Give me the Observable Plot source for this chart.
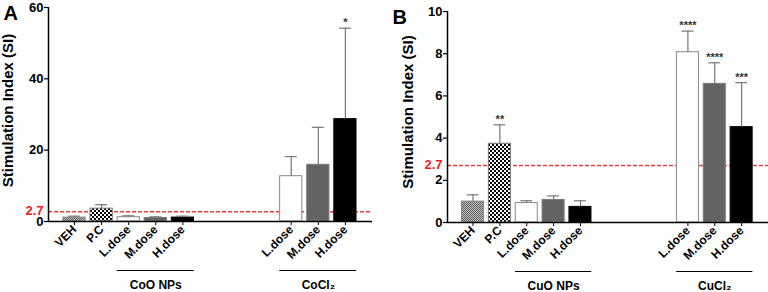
<!DOCTYPE html>
<html><head><meta charset="utf-8">
<script src="https://cdn.jsdelivr.net/npm/d3@7"></script>
<script src="https://cdn.jsdelivr.net/npm/@observablehq/plot@0.6"></script>
<style>
html,body{margin:0;padding:0;background:#fff;}
#wrap{position:relative;width:768px;height:292px;overflow:hidden;background:#fff;}
.panel{position:absolute;top:0;}
</style></head><body>
<svg width="0" height="0" style="position:absolute">
  <defs>
    <pattern id="patVeh" width="2" height="2" patternUnits="userSpaceOnUse">
      <rect width="2" height="2" fill="#c4c4c4"/>
      <rect width="1" height="1" fill="#5a5a5a"/>
      <rect x="1" y="1" width="1" height="1" fill="#5a5a5a"/>
    </pattern>
    <pattern id="patPC" width="4" height="4" patternUnits="userSpaceOnUse">
      <rect width="4" height="4" fill="#fff"/>
      <rect width="2" height="2" fill="#000"/>
      <rect x="2" y="2" width="2" height="2" fill="#000"/>
    </pattern>
  </defs>
</svg>
<div id="wrap"><div id="pa" class="panel" style="left:0"></div><div id="pb" class="panel" style="left:384px"></div></div>
<script>
// ---- Data ----
const labelsA = ["VEH", "P.C", "L.dose", "M.dose", "H.dose", "L.dose", "M.dose", "H.dose"];
const setsA   = ["", "", "CoO NPs", "CoO NPs", "CoO NPs", "CoCl₂", "CoCl₂", "CoCl₂"];
const meansA  = [1.1, 3.6, 1.2, 1.0, 1.1, 12.7, 15.9, 28.7];
const upperA  = [1.5, 4.7, 1.6, 1.3, 1.5, 18.2, 26.4, 54.2];
const starsA  = ["", "", "", "", "", "", "", "*"];
const yTicksA = [0, 20, 40, 60];

const labelsB = ["VEH", "P.C", "L.dose", "M.dose", "H.dose", "L.dose", "M.dose", "H.dose"];
const setsB   = ["", "", "CuO NPs", "CuO NPs", "CuO NPs", "CuCl₂", "CuCl₂", "CuCl₂"];
const meansB  = [0.99, 3.73, 0.92, 1.07, 0.74, 8.07, 6.57, 4.52];
const upperB  = [1.31, 4.63, 1.03, 1.26, 1.03, 9.07, 7.57, 6.63];
const starsB  = ["", "**", "", "", "", "****", "****", "***"];
const yTicksB = [0, 2, 4, 6, 8, 10];

const threshold = 2.7;
const yTitle = "Stimulation Index (SI)";

// ---- Styles ----
const fillOf = {"VEH": "url(#patVeh)", "P.C": "url(#patPC)", "L.dose": "#ffffff", "M.dose": "#636363", "H.dose": "#000000"};
const strokeOf = {"VEH": "#888", "P.C": "#777", "L.dose": "#888", "M.dose": "#7a7a7a", "H.dose": "#000"};

function panel(cfg) {
  const slot = i => (i < 5 ? i : i + 3);
  const rows = cfg.labels.map((label, i) => ({
    label, set: cfg.sets[i], mean: cfg.means[i], upper: cfg.upper[i], star: cfg.stars[i], x: slot(i)
  }));
  const labelMap = new Map(rows.map(r => [r.x, r.label]));
  const groups = d3.groups(rows.filter(r => r.set), r => r.set).map(([name, rs]) => ({
    name, x1: d3.min(rs, r => r.x) - 0.42, x2: d3.max(rs, r => r.x) + 0.42, xm: d3.mean(rs, r => r.x)
  }));
  const yMax = d3.max(cfg.yTicks);
  const xDomain = cfg.xDomain;
  return Plot.plot({
    width: 384, height: 292,
    marginLeft: cfg.marginLeft, marginRight: cfg.marginRight, marginTop: cfg.marginTop, marginBottom: cfg.marginBottom,
    style: {fontFamily: "'Liberation Sans', Arial, sans-serif", fontWeight: "bold", background: "transparent", overflow: "visible"},
    x: {type: "linear", domain: xDomain},
    y: {domain: [0, yMax]},
    fill: {type: "identity"},
    stroke: {type: "identity"},
    marks: [
      Plot.ruleY([threshold], {stroke: "#ee3a3a", strokeWidth: 1.5, strokeDasharray: "4,2"}),
      Plot.rectY(rows, {x1: d => d.x - 0.41, x2: d => d.x + 0.41, y1: 0, y2: "mean",
        fill: d => fillOf[d.label], stroke: d => strokeOf[d.label], strokeWidth: 1}),
      Plot.ruleX(rows, {x: "x", y1: "mean", y2: "upper", stroke: "#777", strokeWidth: 1.2}),
      Plot.ruleY(rows, {y: "upper", x1: d => d.x - 0.22, x2: d => d.x + 0.22, stroke: "#777", strokeWidth: 1.2}),
      Plot.text(rows.filter(r => r.star), {x: "x", y: "upper", text: "star", lineAnchor: "bottom", dy: -2, fontSize: 11, fill: "#333"}),
      Plot.ruleX([xDomain[0]], {y1: 0, y2: yMax, stroke: "#000", strokeWidth: 1.5}),
      Plot.ruleY([0], {stroke: "#000", strokeWidth: 1.5}),
      Plot.axisY({ticks: cfg.yTicks, tickSize: 4, tickPadding: 1, fontSize: 13, label: null, stroke: "#000", strokeWidth: 1.2}),
      Plot.axisX({ticks: rows.map(r => r.x), tickFormat: d => labelMap.get(d), tickRotate: -45, tickSize: 4, tickPadding: 2, fontSize: 12, label: null}),
      Plot.text([threshold], {x: xDomain[0], y: d => d, text: d => String(d), textAnchor: "end", dx: -5, dy: -1, fill: "#ee1c1c", fontSize: 13}),
      Plot.ruleY(groups, {y: 0, x1: "x1", x2: "x2", dy: 49, stroke: "#000", strokeWidth: 1}),
      Plot.text(groups, {x: "xm", y: 0, text: "name", dy: 64, fontSize: 12}),
      Plot.text([yTitle], {text: d => d, frameAnchor: "left", textAnchor: "middle", rotate: -90, dx: -cfg.titleOffset, dy: cfg.titleDy, fontSize: 15}),
      Plot.text([cfg.letter], {text: d => d, frameAnchor: "top-left", textAnchor: "start", lineAnchor: "top", dx: cfg.letterDx, dy: -2, fontSize: 20})
    ]
  });
}

document.getElementById("pa").append(panel({
  labels: labelsA, sets: setsA, means: meansA, upper: upperA, stars: starsA, yTicks: yTicksA,
  marginLeft: 48, marginRight: 12, marginTop: 7, marginBottom: 71, xDomain: [-0.96, 11],
  titleOffset: 40, titleDy: -4, letter: "A", letterDx: -45
}));
document.getElementById("pb").append(panel({
  labels: labelsB, sets: setsB, means: meansB, upper: upperB, stars: starsB, yTicks: yTicksB,
  marginLeft: 63, marginRight: 0, marginTop: 11, marginBottom: 70, xDomain: [-0.95, 11],
  titleOffset: 39, titleDy: -5, letter: "B", letterDx: -55
}));
</script>
</body></html>
